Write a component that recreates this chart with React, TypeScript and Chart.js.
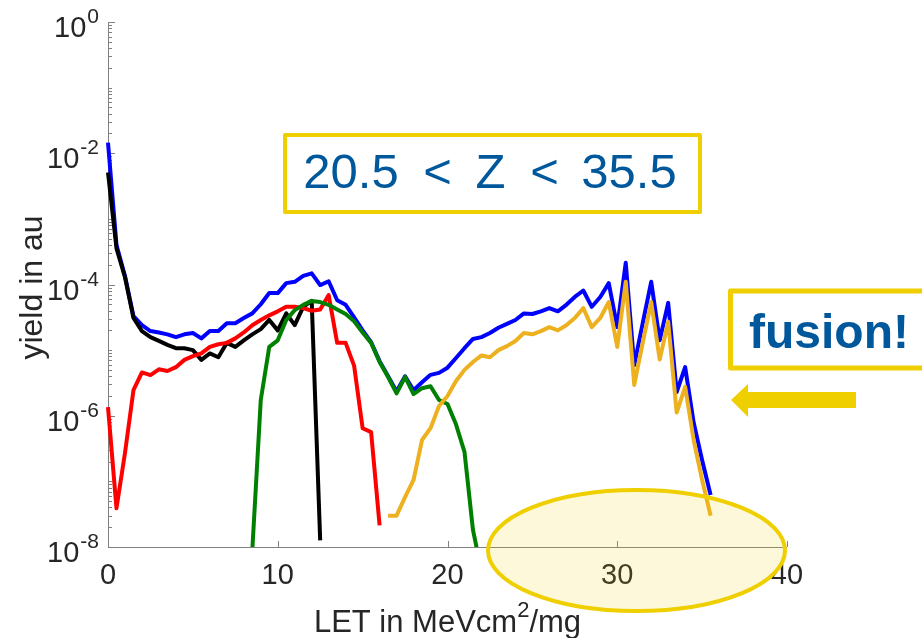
import React, { useEffect, useRef } from 'react';
import { Chart, registerables } from 'chart.js';

Chart.register(...registerables);

// LET bin positions (MeV cm^2/mg)
const LET = [
  0, 0.5, 1, 1.5, 2, 2.5, 3, 3.5, 4, 4.5, 5, 5.5, 6, 6.5, 7, 7.5, 8, 8.5, 9, 9.5,
  10, 10.5, 11, 11.5, 12, 12.5, 13, 13.5, 14, 14.5, 15, 15.5, 16, 16.5, 17, 17.5, 18, 18.5, 19, 19.5,
  20, 20.5, 21, 21.5, 22, 22.5, 23, 23.5, 24, 24.5, 25, 25.5, 26, 26.5, 27, 27.5, 28, 28.5, 29, 29.5,
  30, 30.5, 31, 31.5, 32, 32.5, 33, 33.5, 34, 34.5, 35, 35.5,
];

// total yield (blue), one value per LET bin
const totalYield = [
  1.45e-2, 4.0e-4, 1.35e-4, 3.3e-5, 2.4e-5, 1.95e-5, 1.86e-5, 1.74e-5, 1.58e-5, 1.74e-5,
  1.82e-5, 1.51e-5, 1.95e-5, 1.95e-5, 2.57e-5, 2.57e-5, 3.09e-5, 3.63e-5, 5.0e-5, 7.4e-5,
  7.4e-5, 1.05e-4, 1.1e-4, 1.35e-4, 1.48e-4, 9.8e-5, 1.12e-4, 5.75e-5, 4.9e-5, 3.16e-5,
  2.0e-5, 1.32e-5, 6.8e-6, 4.0e-6, 2.35e-6, 4.0e-6, 2.45e-6, 3.24e-6, 4.2e-6, 4.5e-6,
  5.4e-6, 7.6e-6, 1.07e-5, 1.48e-5, 1.58e-5, 1.82e-5, 2.19e-5, 2.51e-5, 2.88e-5, 3.63e-5,
  3.55e-5, 3.9e-5, 4.37e-5, 3.9e-5, 4.9e-5, 6.46e-5, 8.1e-5, 4.57e-5, 6.46e-5, 1.05e-4,
  2.24e-5, 2.14e-4, 5.9e-6, 2.57e-5, 1.1e-4, 1.41e-5, 5.25e-5, 2.3e-6, 5.5e-6, 7.9e-7,
  2.1e-7, 6.2e-8,
];

// component yields; each starts at the given LET index
const BLACK_FROM = 0;
const blackYield = [
  5.1e-3, 3.55e-4, 1.29e-4, 3.09e-5, 1.95e-5, 1.58e-5, 1.38e-5, 1.2e-5, 1.07e-5, 1.07e-5,
  1.0e-5, 7.1e-6, 8.9e-6, 7.8e-6, 1.29e-5, 1.12e-5, 1.41e-5, 1.74e-5, 2.09e-5, 2.88e-5,
  2.0e-5, 3.63e-5, 2.4e-5, 4.57e-5, 5.62e-5, 1.26e-8,
];

const RED_FROM = 0;
const redYield = [
  1.35e-6, 3.9e-8, 2.7e-7, 2.45e-6, 4.57e-6, 4.17e-6, 5.1e-6, 4.8e-6, 5.5e-6, 7.1e-6,
  8.1e-6, 8.9e-6, 1.12e-5, 1.23e-5, 1.29e-5, 1.51e-5, 1.86e-5, 2.4e-5, 2.88e-5, 3.39e-5,
  3.9e-5, 4.57e-5, 4.57e-5, 4.37e-5, 3.98e-5, 4.17e-5, 6.9e-5, 1.29e-5, 1.29e-5, 5.75e-6,
  6.46e-7, 5.62e-7, 2.14e-8,
];

const GREEN_FROM = 17;
const greenYield = [
  8.9e-9, 1.74e-6, 1.12e-5, 1.41e-5, 2.88e-5, 4.07e-5, 4.9e-5, 5.62e-5, 5.4e-5, 4.9e-5,
  4.17e-5, 3.55e-5, 2.75e-5, 1.86e-5, 1.29e-5, 6.6e-6, 3.9e-6, 2.19e-6, 3.9e-6, 2.14e-6,
  2.63e-6, 2.82e-6, 1.74e-6, 1.51e-6, 7.4e-7, 2.82e-7, 1.82e-8, 4.3e-9,
];

const ORANGE_FROM = 33;
const orangeYield = [
  3.0e-8, 3.0e-8, 5.75e-8, 1.05e-7, 4.27e-7, 6.46e-7, 1.41e-6, 2.0e-6, 3.39e-6, 5.0e-6,
  6.6e-6, 8.3e-6, 7.8e-6, 1.0e-5, 1.15e-5, 1.38e-5, 1.82e-5, 1.74e-5, 1.95e-5, 2.24e-5,
  2.0e-5, 2.4e-5, 3.09e-5, 4.37e-5, 2.24e-5, 3.09e-5, 5.4e-5, 1.12e-5, 1.1e-4, 2.95e-6,
  1.29e-5, 5.4e-5, 7.2e-6, 2.7e-5, 1.12e-6, 2.75e-6, 4.27e-7, 1.05e-7, 3.0e-8,
];

const X_TICKS = [0, 10, 20, 30, 40];
const Y_TICK_EXPONENTS = [0, -2, -4, -6, -8];

const FONT = '"Liberation Sans", Arial, Helvetica, sans-serif';
const TEXT = '#262626';
const AXIS = '#808080';
const YELLOW = '#EFCF00';
const NOTE_BLUE = '#00589C';

const toPoints = (values: number[], from: number) =>
  values.map((y, i) => ({ x: LET[from + i], y }));

const series = (data: { x: number; y: number }[], color: string, order: number) => ({
  data,
  borderColor: color,
  backgroundColor: color,
  borderWidth: 4,
  pointRadius: 0,
  tension: 0,
  fill: false,
  borderJoinStyle: 'round' as const,
  borderCapStyle: 'butt' as const,
  order,
  clip: { left: 6, top: 6, right: 6, bottom: 0 },
});

const axesPlugin = {
  id: 'matlabAxes',
  beforeDatasetsDraw(chart: any) {
    const { ctx, chartArea: a, scales } = chart;
    const x = scales.x;
    const y = scales.y;
    ctx.save();
    ctx.strokeStyle = AXIS;
    ctx.lineWidth = 1;
    ctx.beginPath();
    ctx.moveTo(a.left + 0.5, a.top);
    ctx.lineTo(a.left + 0.5, a.bottom + 0.5);
    ctx.lineTo(a.right, a.bottom + 0.5);
    ctx.stroke();

    ctx.beginPath();
    for (const v of X_TICKS) {
      const px = Math.round(x.getPixelForValue(v)) + 0.5;
      ctx.moveTo(px, a.bottom);
      ctx.lineTo(px, a.bottom - 6);
    }
    for (let e = -8; e <= 0; e++) {
      const py = Math.round(y.getPixelForValue(Math.pow(10, e))) + 0.5;
      const len = Y_TICK_EXPONENTS.includes(e) ? 7 : 4;
      ctx.moveTo(a.left, py);
      ctx.lineTo(a.left + len, py);
      if (e < 0) {
        for (let m = 2; m <= 9; m++) {
          const pm = Math.round(y.getPixelForValue(m * Math.pow(10, e))) + 0.5;
          ctx.moveTo(a.left, pm);
          ctx.lineTo(a.left + 4, pm);
        }
      }
    }
    ctx.stroke();
    ctx.restore();
  },
  afterDraw(chart: any) {
    const { ctx, chartArea: a, scales } = chart;
    const x = scales.x;
    const y = scales.y;
    ctx.save();
    ctx.fillStyle = TEXT;
    ctx.textBaseline = 'alphabetic';

    // x tick labels
    ctx.font = `29px ${FONT}`;
    ctx.textAlign = 'center';
    for (const v of X_TICKS) {
      ctx.fillText(String(v), x.getPixelForValue(v), a.bottom + 37);
    }

    // y tick labels: 10 with raised exponent
    for (const e of Y_TICK_EXPONENTS) {
      const py = y.getPixelForValue(Math.pow(10, e));
      const exp = String(e);
      ctx.font = `21px ${FONT}`;
      const ew = ctx.measureText(exp).width;
      const right = a.left - 9;
      ctx.textAlign = 'left';
      ctx.fillText(exp, right - ew, py + 1);
      ctx.font = `29px ${FONT}`;
      ctx.textAlign = 'right';
      ctx.fillText('10', right - ew - 1, py + 15);
    }

    // x axis title with superscript
    const cx = (a.left + a.right) / 2;
    const base = 632;
    const p1 = 'LET in MeVcm';
    const p2 = '2';
    const p3 = '/mg';
    ctx.font = `31px ${FONT}`;
    const w1 = ctx.measureText(p1).width;
    const w3 = ctx.measureText(p3).width;
    ctx.font = `22px ${FONT}`;
    const w2 = ctx.measureText(p2).width;
    let sx = cx - (w1 + w2 + w3) / 2;
    ctx.textAlign = 'left';
    ctx.font = `31px ${FONT}`;
    ctx.fillText(p1, sx, base);
    sx += w1;
    ctx.font = `22px ${FONT}`;
    ctx.fillText(p2, sx, base - 15);
    sx += w2;
    ctx.font = `31px ${FONT}`;
    ctx.fillText(p3, sx, base);

    // y axis title
    ctx.save();
    ctx.translate(42, (a.top + a.bottom) / 2 + 3);
    ctx.rotate(-Math.PI / 2);
    ctx.textAlign = 'center';
    ctx.font = `32px ${FONT}`;
    ctx.fillText('yield in au', 0, 0);
    ctx.restore();

    // charge range box
    ctx.strokeStyle = YELLOW;
    ctx.lineWidth = 4;
    ctx.lineJoin = 'round';
    ctx.strokeRect(285, 135, 415, 77);
    ctx.fillStyle = NOTE_BLUE;
    ctx.font = `49px ${FONT}`;
    ctx.textAlign = 'center';
    const parts: [string, number][] = [
      ['20.5', 351], ['<', 437.5], ['Z', 490.5], ['<', 544.5], ['35.5', 629],
    ];
    for (const [t, px] of parts) ctx.fillText(t, px, 188);

    // fusion box
    ctx.lineWidth = 5;
    ctx.strokeRect(730.5, 291, 220, 77);
    ctx.font = `bold 48px ${FONT}`;
    ctx.textAlign = 'left';
    ctx.fillText('fusion!', 749, 348);

    // arrow
    ctx.fillStyle = YELLOW;
    ctx.beginPath();
    ctx.moveTo(731, 400);
    ctx.lineTo(748, 384);
    ctx.lineTo(748, 392);
    ctx.lineTo(856, 392);
    ctx.lineTo(856, 408);
    ctx.lineTo(748, 408);
    ctx.lineTo(748, 417);
    ctx.closePath();
    ctx.fill();

    // highlight ellipse
    ctx.beginPath();
    ctx.ellipse(636.5, 550.5, 148.5, 60.5, 0, 0, Math.PI * 2);
    ctx.fillStyle = 'rgba(239, 207, 0, 0.15)';
    ctx.fill();
    ctx.lineWidth = 4;
    ctx.strokeStyle = YELLOW;
    ctx.stroke();

    ctx.restore();
  },
};

export default function App() {
  const ref = useRef<HTMLCanvasElement>(null);

  useEffect(() => {
    const canvas = ref.current;
    if (!canvas) return;
    const chart = new Chart(canvas, {
      type: 'line',
      data: {
        datasets: [
          series(toPoints(orangeYield, ORANGE_FROM), '#EDB120', 1),
          series(toPoints(greenYield, GREEN_FROM), '#008000', 2),
          series(toPoints(redYield, RED_FROM), '#FF0000', 3),
          series(toPoints(blackYield, BLACK_FROM), '#000000', 4),
          series(toPoints(totalYield, 0), '#0000FF', 5),
        ] as any,
      },
      options: {
        responsive: false,
        maintainAspectRatio: false,
        devicePixelRatio: 1,
        animation: false,
        events: [],
        layout: { padding: { left: 108, top: 22, right: 135, bottom: 91 } },
        plugins: {
          legend: { display: false },
          tooltip: { enabled: false },
          title: { display: false },
        },
        scales: {
          x: { type: 'linear', min: 0, max: 40, display: false },
          y: { type: 'logarithmic', min: 1e-8, max: 1, display: false },
        },
      },
      plugins: [axesPlugin],
    });
    return () => chart.destroy();
  }, []);

  return (
    <div style={{ position: 'absolute', left: 0, top: 0, width: 922, height: 638, background: '#ffffff', overflow: 'hidden' }}>
      <canvas ref={ref} width={922} height={638} style={{ display: 'block', width: 922, height: 638 }} />
    </div>
  );
}
